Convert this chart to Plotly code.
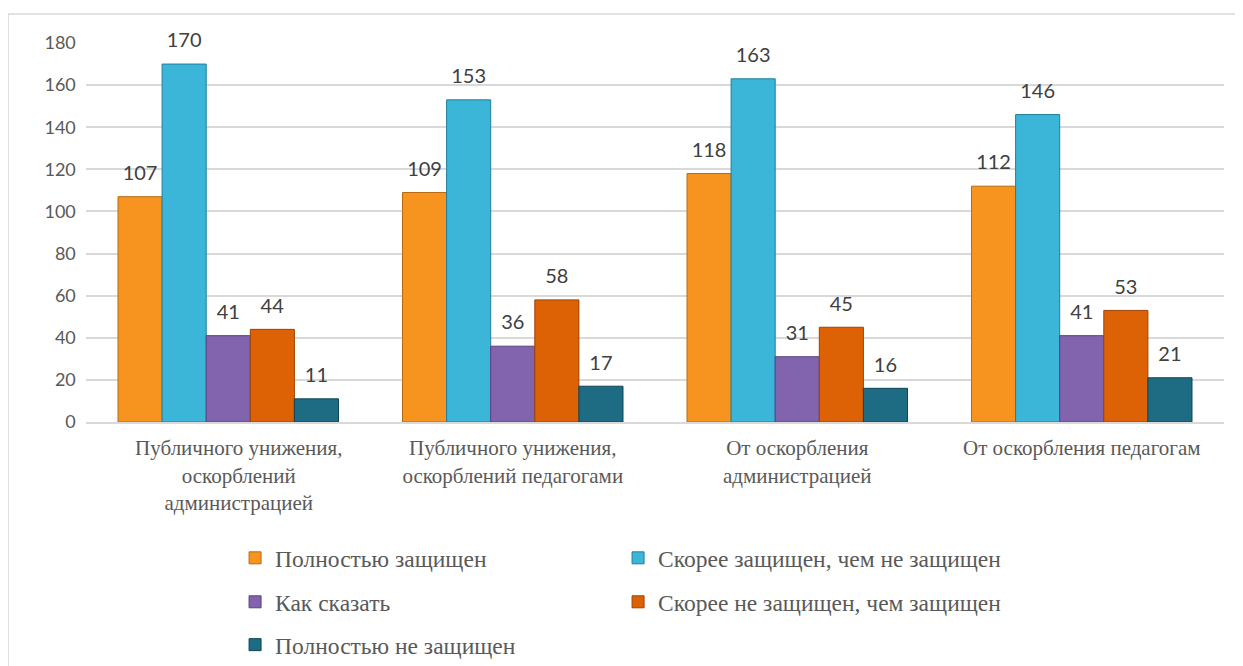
import plotly.graph_objects as go

pad = "\u00a0" * 4
categories = [
    pad + "Публичного унижения,<br>" + pad + "оскорблений<br>" + pad + "администрацией",
    "Публичного унижения,<br>оскорблений педагогами",
    "От оскорбления<br>администрацией",
    "От оскорбления педагогам",
]
series_names = [
    "Полностью защищен",
    "Скорее защищен, чем не защищен",
    "Как сказать",
    "Скорее не защищен, чем защищен",
    "Полностью не защищен",
]
full_protected = [107, 109, 118, 112]
rather_protected = [170, 153, 163, 146]
hard_to_say = [41, 36, 31, 41]
rather_not = [44, 58, 45, 53]
not_protected = [11, 17, 16, 21]

series_values = [full_protected, rather_protected, hard_to_say, rather_not, not_protected]
colors = ["#F7941F", "#3BB5D8", "#8263AE", "#DD6206", "#1E6C84"]
edges = ["#B86A10", "#1F7F9C", "#5A4180", "#9E4204", "#0F4555"]
legend_ids = ["legend", "legend", "legend2", "legend2", "legend3"]

serif = "Liberation Serif"

# value label + a small invisible second line, to lift the label off the bar top
def label(v):
    return f"<span style='font-size:20px'>{v}</span><br><span style='color:rgba(0,0,0,0)'>.</span>"

fig = go.Figure()
for name, vals, col, edge, lg in zip(series_names, series_values, colors, edges, legend_ids):
    fig.add_trace(go.Bar(
        x=categories, y=vals, name=name, legend=lg,
        marker=dict(color=col, line=dict(color=edge, width=1)),
        text=[label(v) for v in vals], textposition="outside",
        textfont=dict(family="Lato", size=9, color="#404040"),
        constraintext="none", cliponaxis=False,
    ))

legend_common = dict(
    orientation="h", xanchor="left", yanchor="middle", x=0.131,
    entrywidth=338, entrywidthmode="pixels", traceorder="normal",
    font=dict(family=serif, size=23.5, color="#595959"),
    bgcolor="rgba(0,0,0,0)",
)

fig.update_layout(
    width=1235, height=658,
    paper_bgcolor="white", plot_bgcolor="white",
    margin=dict(l=78, r=19, t=35, b=244, autoexpand=False),
    barmode="group", bargap=0.225, bargroupgap=0,
    showlegend=True,
    legend=dict(legend_common, y=-0.359),
    legend2=dict(legend_common, y=-0.475),
    legend3=dict(legend_common, y=-0.588),
)
fig.update_xaxes(
    showline=True, linecolor="#D9D9D9", linewidth=2,
    tickfont=dict(family=serif, size=21, color="#595959"),
    ticks="", tickangle=0, ticklabelstandoff=6, automargin=False,
)
fig.update_yaxes(
    range=[0, 180], dtick=20, showgrid=True, gridcolor="#D9D9D9", gridwidth=1.5,
    zeroline=False, showline=False, automargin=False,
    tickfont=dict(family="Lato", size=18, color="#595959"),
    ticksuffix="  ",
)
fig.add_shape(type="rect", xref="paper", yref="paper",
              x0=-0.0685, x1=1.0158, y0=-0.66, y1=1.0765,
              line=dict(color="#D9D9D9", width=1.5), layer="below")

fig.write_html("out.html")
